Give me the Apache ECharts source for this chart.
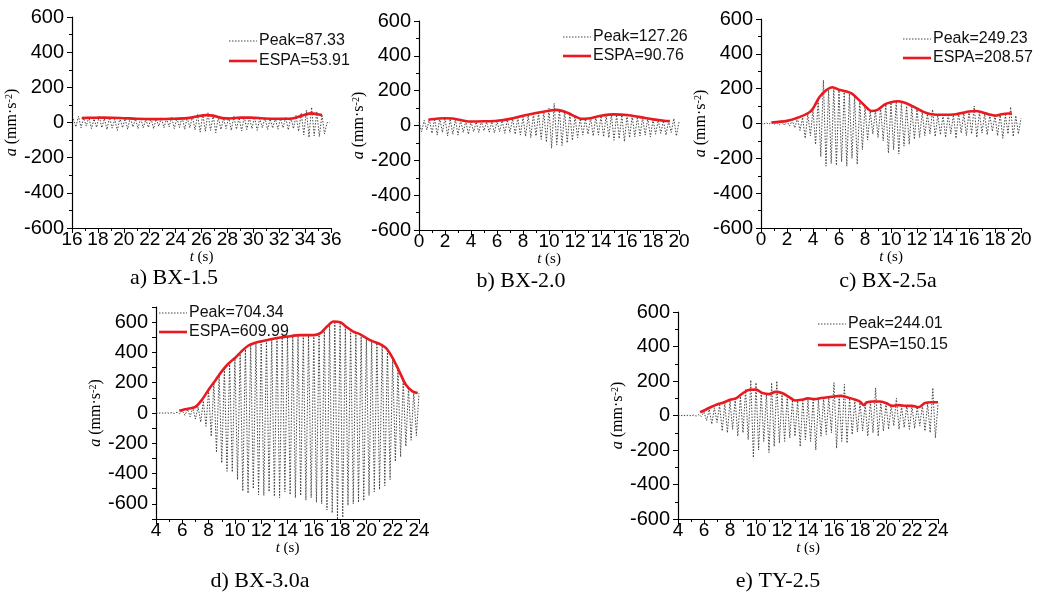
<!DOCTYPE html>
<html>
<head>
<meta charset="utf-8">
<script src="https://cdn.jsdelivr.net/npm/echarts@6/dist/echarts.min.js"></script>
<style>
  html, body { margin: 0; padding: 0; background: #fff; }
  #main { width: 1042px; height: 592px; }
</style>
</head>
<body>
<div id="main"></div>
<script>
// acceleration records (mm/s^2), one reading every sigStep seconds, peaks and troughs alternate
const sigStep = 0.2;

// a) BX-1.5
const tStartA = 16.1;
const sigA = [20,-25, 35,-30, 25,-20, 30,-35, 20,-28, 38,-30, 22,-40, 28,-32, 18,-45, 25,-30,
  22,-38, 30,-25, 20,-35, 26,-30, 18,-28, 24,-35, 20,-22, 28,-30, 22,-25, 30,-35,
  25,-28, 32,-38, 28,-30, 35,-42, 45,-55, 48,-50, 55,-45, 42,-58, 30,-40, 25,-35,
  30,-45, 35,-38, 28,-48, 32,-40, 26,-35, 30,-45, 22,-30, 28,-40, 20,-32, 25,-38,
  22,-30, 30,-42, 28,-35, 40,-50, 55,-70, 70,-85, 87,-75, 60,-80, 45,-65, 0, 0];
const espaTimeA = [16.75, 17.5, 18.4, 19.7, 21.0, 22.3, 23.6, 24.9, 25.6, 26.4, 26.9, 27.6, 28.2, 29.0, 29.7, 30.8, 31.8, 32.8, 33.4, 33.9, 34.5, 34.9, 35.3];
const espaValA = [26, 27, 28, 26, 21, 19, 21, 25, 34, 42, 39, 25, 23, 28, 28, 23, 21, 21, 30, 43, 52, 48, 42];

// b) BX-2.0
const tStartB = 0;
const sigB = [20,-35, 30,-25, 35,-45, 40,-55, 42,-40, 45,-60, 38,-50, 35,-55, 30,-40, 25,-50,
  22,-35, 20,-40, 25,-30, 20,-38, 22,-42, 25,-35, 28,-45, 32,-40, 38,-50, 45,-55,
  50,-62, 58,-70, 65,-60, 72,-80, 80,-95, 100,-130, 127,-110, 95,-115, 85,-100, 70,-85,
  55,-70, 40,-55, 38,-50, 45,-60, 50,-55, 55,-65, 60,-70, 65,-85, 62,-75, 60,-92,
  58,-70, 55,-65, 50,-60, 45,-55, 42,-65, 35,-50, 30,-45, 28,-55, 25,-40, 40,-60, 20];
const espaTimeB = [0.72, 1.5, 2.0, 2.6, 3.3, 3.8, 5.0, 6.0, 7.0, 8.0, 9.0, 10.0, 10.5, 11.0, 11.5, 12.0, 12.5, 13.0, 14.0, 15.0, 16.0, 17.0, 18.0, 19.0, 19.3];
const espaValB = [33, 40, 42, 40, 30, 23, 24, 27, 38, 56, 72, 85, 90, 84, 70, 52, 38, 40, 56, 64, 60, 48, 35, 26, 25];

// c) BX-2.5a
const tStartC = 0;
const sigC = [3,-3, 4,-4, 5,-5, 6,-8, 8,-10, 12,-15, 18,-25, 30,-40, 35,-85, 55,-70,
  80,-120, 140,-190, 249,-245, 200,-230, 210,-240, 190,-220, 180,-245, 170,-200, 160,-235, 130,-150,
  100,-95, 70,-60, 75,-80, 90,-100, 110,-170, 120,-150, 128,-175, 115,-130, 100,-120, 95,-90,
  80,-80, 65,-70, 55,-60, 80,-75, 50,-65, 48,-80, 55,-60, 50,-85, 60,-55, 58,-70,
  70,-60, 100,-80, 65,-55, 55,-65, 50,-45, 45,-70, 55,-85, 50,-60, 95,-75, 45,-60, 30];
const espaTimeC = [0.8, 2, 3, 3.7, 4, 4.5, 5, 5.5, 6, 6.5, 7, 7.5, 8, 8.5, 9, 9.5, 10, 10.5, 11, 11.5, 12, 12.5, 13, 14, 15, 15.5, 16, 16.5, 17, 17.5, 18, 18.5, 19, 19.3];
const espaValC = [6, 15, 38, 63, 86, 152, 190, 208, 194, 185, 171, 137, 101, 72, 80, 109, 122, 128, 120, 105, 86, 67, 55, 50, 53, 61, 69, 72, 65, 53, 45, 53, 57, 57];

// d) BX-3.0a
const tStartD = 4;
const sigD = [3,-2, 2,-3, 3,-2, 2,-3, 5,-5, 15,-15, 25,-25, 35,-40, 40,-60, 80,-88,
  150,-154, 200,-260, 260,-330, 300,-385, 330,-390, 360,-440, 400,-516, 440,-530, 455,-500, 465,-540,
  470,-545, 480,-520, 485,-550, 490,-560, 500,-520, 505,-540, 508,-560, 510,-545, 512,-575, 512,-560,
  514,-590, 525,-600, 560,-640, 595,-660, 605,-704, 600,-690, 570,-610, 545,-600, 530,-590, 515,-580,
  495,-545, 475,-520, 462,-505, 445,-480, 420,-440, 360,-320, 290,-290, 220,-220, 170,-180, 140,-150, 130];
const espaTimeD = [5.77, 6.5, 7, 7.5, 8, 8.5, 9, 9.5, 10, 10.5, 11, 11.5, 12, 13, 14, 15, 16, 16.5, 17, 17.5, 18, 18.5, 19, 19.5, 20, 20.5, 21, 21.5, 22, 22.5, 23, 23.5, 23.9];
const espaValD = [15, 29, 40, 88, 154, 213, 275, 325, 363, 407, 444, 462, 473, 492, 505, 514, 514, 527, 571, 604, 600, 567, 538, 521, 495, 473, 457, 429, 363, 275, 187, 143, 132];

// e) TY-2.5
const tStartE = 4;
const sigE = [2,-2, 2,-2, 3,-2, 2,-3, 5,-5, 20,-30, 35,-50, 45,-40, 60,-90, 70,-100,
  85,-80, 95,-120, 110,-100, 150,-140, 205,-244, 190,-200, 140,-150, 130,-215, 190,-180, 200,-160,
  120,-150, 110,-130, 90,-120, 85,-180, 95,-140, 90,-150, 100,-200, 95,-120, 100,-110, 105,-100,
  190,-190, 110,-150, 180,-160, 100,-110, 90,-95, 75,-90, 70,-120, 80,-100, 160,-120, 80,-90,
  70,-80, 60,-60, 100,-80, 55,-70, 60,-80, 55,-75, 50,-60, 60,-90, 70,-100, 160,-130, 70];
const espaTimeE = [5.7, 6, 6.5, 7, 7.5, 8, 8.5, 9, 9.5, 10, 10.5, 11, 11.5, 12, 12.5, 13, 13.5, 14, 14.5, 15, 15.5, 16, 16.5, 17, 17.5, 18, 18.3, 18.5, 19, 19.5, 20, 20.5, 21, 21.5, 22, 22.5, 23, 23.5, 24];
const espaValE = [19, 29, 48, 64, 75, 91, 101, 130, 149, 150, 130, 124, 137, 130, 110, 87, 91, 99, 95, 101, 106, 110, 114, 106, 95, 81, 60, 75, 81, 81, 72, 56, 60, 56, 56, 48, 72, 77, 77];

const peakNames = ['Peak=87.33', 'Peak=127.26', 'Peak=249.23', 'Peak=704.34', 'Peak=244.01'];
const espaNames = ['ESPA=53.91', 'ESPA=90.76', 'ESPA=208.57', 'ESPA=609.99', 'ESPA=150.15'];
const captions = ['a) BX-1.5', 'b) BX-2.0', 'c) BX-2.5a', 'd) BX-3.0a', 'e) TY-2.5'];
const xRanges = [[16, 36], [0, 20], [0, 20], [4, 24], [4, 24]];
const yRanges = [[-600, 600], [-600, 600], [-600, 600], [-700, 700], [-600, 600]];

// layout of each panel (pixels); legend = [x, row1 y, row2 y]
const panels = [
  {sig: sigA, t0: tStartA, et: espaTimeA, ev: espaValA, grid: {left: 72, top: 17, width: 259, height: 211}, legend: [229, 41, 61], cap: [174, 278], gap: 47},
  {sig: sigB, t0: tStartB, et: espaTimeB, ev: espaValB, grid: {left: 419, top: 21, width: 260, height: 209}, legend: [563, 37, 56], cap: [521, 281], gap: 47},
  {sig: sigC, t0: tStartC, et: espaTimeC, ev: espaValC, grid: {left: 761, top: 19, width: 260, height: 209}, legend: [903, 39, 58], cap: [888, 281], gap: 46},
  {sig: sigD, t0: tStartD, et: espaTimeD, ev: espaValD, grid: {left: 156, top: 307, width: 263, height: 212}, legend: [159, 313, 332], cap: [260, 581], gap: 41},
  {sig: sigE, t0: tStartE, et: espaTimeE, ev: espaValE, grid: {left: 678, top: 312, width: 260, height: 207}, legend: [818, 324, 345], cap: [778, 581], gap: 46}
];

const SANS = 'Liberation Sans';
const SERIF = 'Liberation Serif';
const RED = '#e8191f';
const SIG_STYLE = {color: '#333', width: 0.9, type: [1.5, 1.5]};

const grids = [], xAxes = [], yAxes = [], series = [], graphics = [];

panels.forEach((p, k) => {
  grids.push(p.grid);

  xAxes.push({
    type: 'value', gridIndex: k, min: xRanges[k][0], max: xRanges[k][1], interval: 2,
    name: '{i|t} (s)', nameLocation: 'middle', nameGap: 17,
    nameTextStyle: {fontFamily: SERIF, fontSize: 15, color: '#000',
      rich: {i: {fontFamily: SERIF, fontSize: 15, fontStyle: 'italic', color: '#000'}}},
    axisLine: {onZero: false, lineStyle: {color: '#000', width: 1.2}},
    axisTick: {length: 5, lineStyle: {color: '#000'}},
    minorTick: {show: true, splitNumber: 2, length: 3, lineStyle: {color: '#000'}},
    axisLabel: {margin: 2, fontFamily: SANS, fontSize: 19, color: '#000'},
    splitLine: {show: false}
  });

  const isD = yRanges[k][0] === -700;
  yAxes.push({
    type: 'value', gridIndex: k, min: yRanges[k][0], max: yRanges[k][1], interval: isD ? 100 : 200,
    name: '{i|a} (mm·s{sup|-2})', nameLocation: 'middle', nameGap: p.gap,
    nameTextStyle: {fontFamily: SERIF, fontSize: 16, color: '#000',
      rich: {
        i: {fontFamily: SERIF, fontSize: 16, fontStyle: 'italic', color: '#000'},
        sup: {fontFamily: SERIF, fontSize: 10, verticalAlign: 'top', color: '#000'}
      }},
    axisLine: {onZero: false, lineStyle: {color: '#000', width: 1.2}},
    axisTick: {length: isD ? 4 : 5, lineStyle: {color: '#000'}},
    minorTick: {show: !isD, splitNumber: 2, length: 3, lineStyle: {color: '#000'}},
    axisLabel: {margin: 8, fontFamily: SANS, fontSize: 20, color: '#000',
      formatter: v => (v % 200 === 0 && Math.abs(v) <= 600) ? String(v) : ''},
    splitLine: {show: false}
  });

  series.push({
    name: peakNames[k], type: 'line', xAxisIndex: k, yAxisIndex: k,
    data: p.sig.map((v, i) => [+(p.t0 + i * sigStep).toFixed(2), v]),
    symbol: 'none', color: '#333',
    lineStyle: SIG_STYLE,
    z: 2
  });
  series.push({
    name: espaNames[k], type: 'line', xAxisIndex: k, yAxisIndex: k,
    data: p.et.map((t, i) => [t, p.ev[i]]),
    symbol: 'none', smooth: 0.3, color: RED,
    lineStyle: {color: RED, width: 2.6},
    z: 3
  });

  // legend keys drawn as plain line samples with text
  const [lx, ly1, ly2] = p.legend;
  graphics.push(
    {type: 'line', shape: {x1: lx, y1: ly1, x2: lx + 28, y2: ly1},
      style: {stroke: '#333', lineWidth: 0.9, lineDash: [1.5, 1.5]}},
    {type: 'text', x: lx + 30, y: ly1,
      style: {text: peakNames[k], fontFamily: SANS, fontSize: 16, fill: '#111', align: 'left', verticalAlign: 'middle'}},
    {type: 'line', shape: {x1: lx, y1: ly2, x2: lx + 28, y2: ly2},
      style: {stroke: RED, lineWidth: 2.6}},
    {type: 'text', x: lx + 30, y: ly2,
      style: {text: espaNames[k], fontFamily: SANS, fontSize: 16, fill: '#111', align: 'left', verticalAlign: 'middle'}},
    {type: 'text', x: p.cap[0], y: p.cap[1],
      style: {text: captions[k], fontFamily: SERIF, fontSize: 22, fill: '#000', align: 'center', verticalAlign: 'middle'}}
  );
});

const chart = echarts.init(document.getElementById('main'));
chart.setOption({
  animation: false,
  backgroundColor: '#fff',
  grid: grids,
  xAxis: xAxes,
  yAxis: yAxes,
  series: series,
  graphic: graphics
});
</script>
</body>
</html>
